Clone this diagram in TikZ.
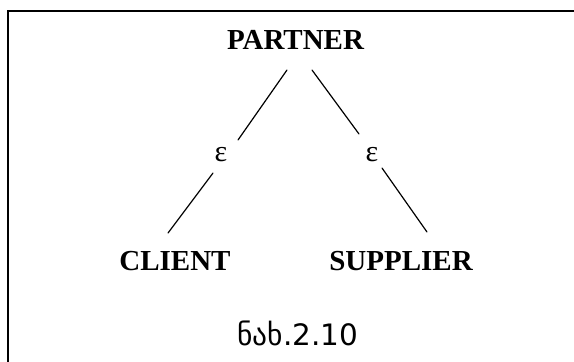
\documentclass[tikz,border=0pt]{standalone}
\usepackage{fontspec}
\setmainfont{Liberation Serif}
\newfontfamily\geofont[Script=Georgian]{DejaVu Sans}
\begin{document}
\begin{tikzpicture}[x=1pt,y=-1pt,
  lbl/.style={font=\fontsize{29}{32}\selectfont\bfseries, inner sep=0pt, anchor=base},
  eps/.style={font=\fontsize{30}{32}\selectfont, inner sep=0pt},
  captext/.style={font=\fontsize{29.5}{32}\selectfont\geofont, inner sep=0pt, anchor=base},
  conn/.style={line width=1.2pt, line cap=round}]
\useasboundingbox (0,0) rectangle (574,362);
\draw[line width=2pt] (8,390) -- (8,11) -- (600,11);
\node[lbl] (partner) at (295.5,49) {PARTNER};
\node[lbl] (client) at (175,270) {CLIENT};
\node[lbl] (supplier) at (401,270) {SUPPLIER};
\node[eps] (e1) at (221,155) {ε};
\node[eps] (e2) at (372,155) {ε};
\node[captext] (caption) at (298,345) {ნახ.2.10};
\coordinate (p1) at (287,70);
\coordinate (p2) at (312,70);
\coordinate (e1t) at (238,140);
\coordinate (e1b) at (213,173);
\coordinate (e2t) at (359,134);
\coordinate (e2b) at (382,168);
\coordinate (c1) at (168,233);
\coordinate (s1) at (427,232);
\draw[conn] (p1) -- (e1t);
\draw[conn] (e1b) -- (c1);
\draw[conn] (p2) -- (e2t);
\draw[conn] (e2b) -- (s1);
\end{tikzpicture}
\end{document}
